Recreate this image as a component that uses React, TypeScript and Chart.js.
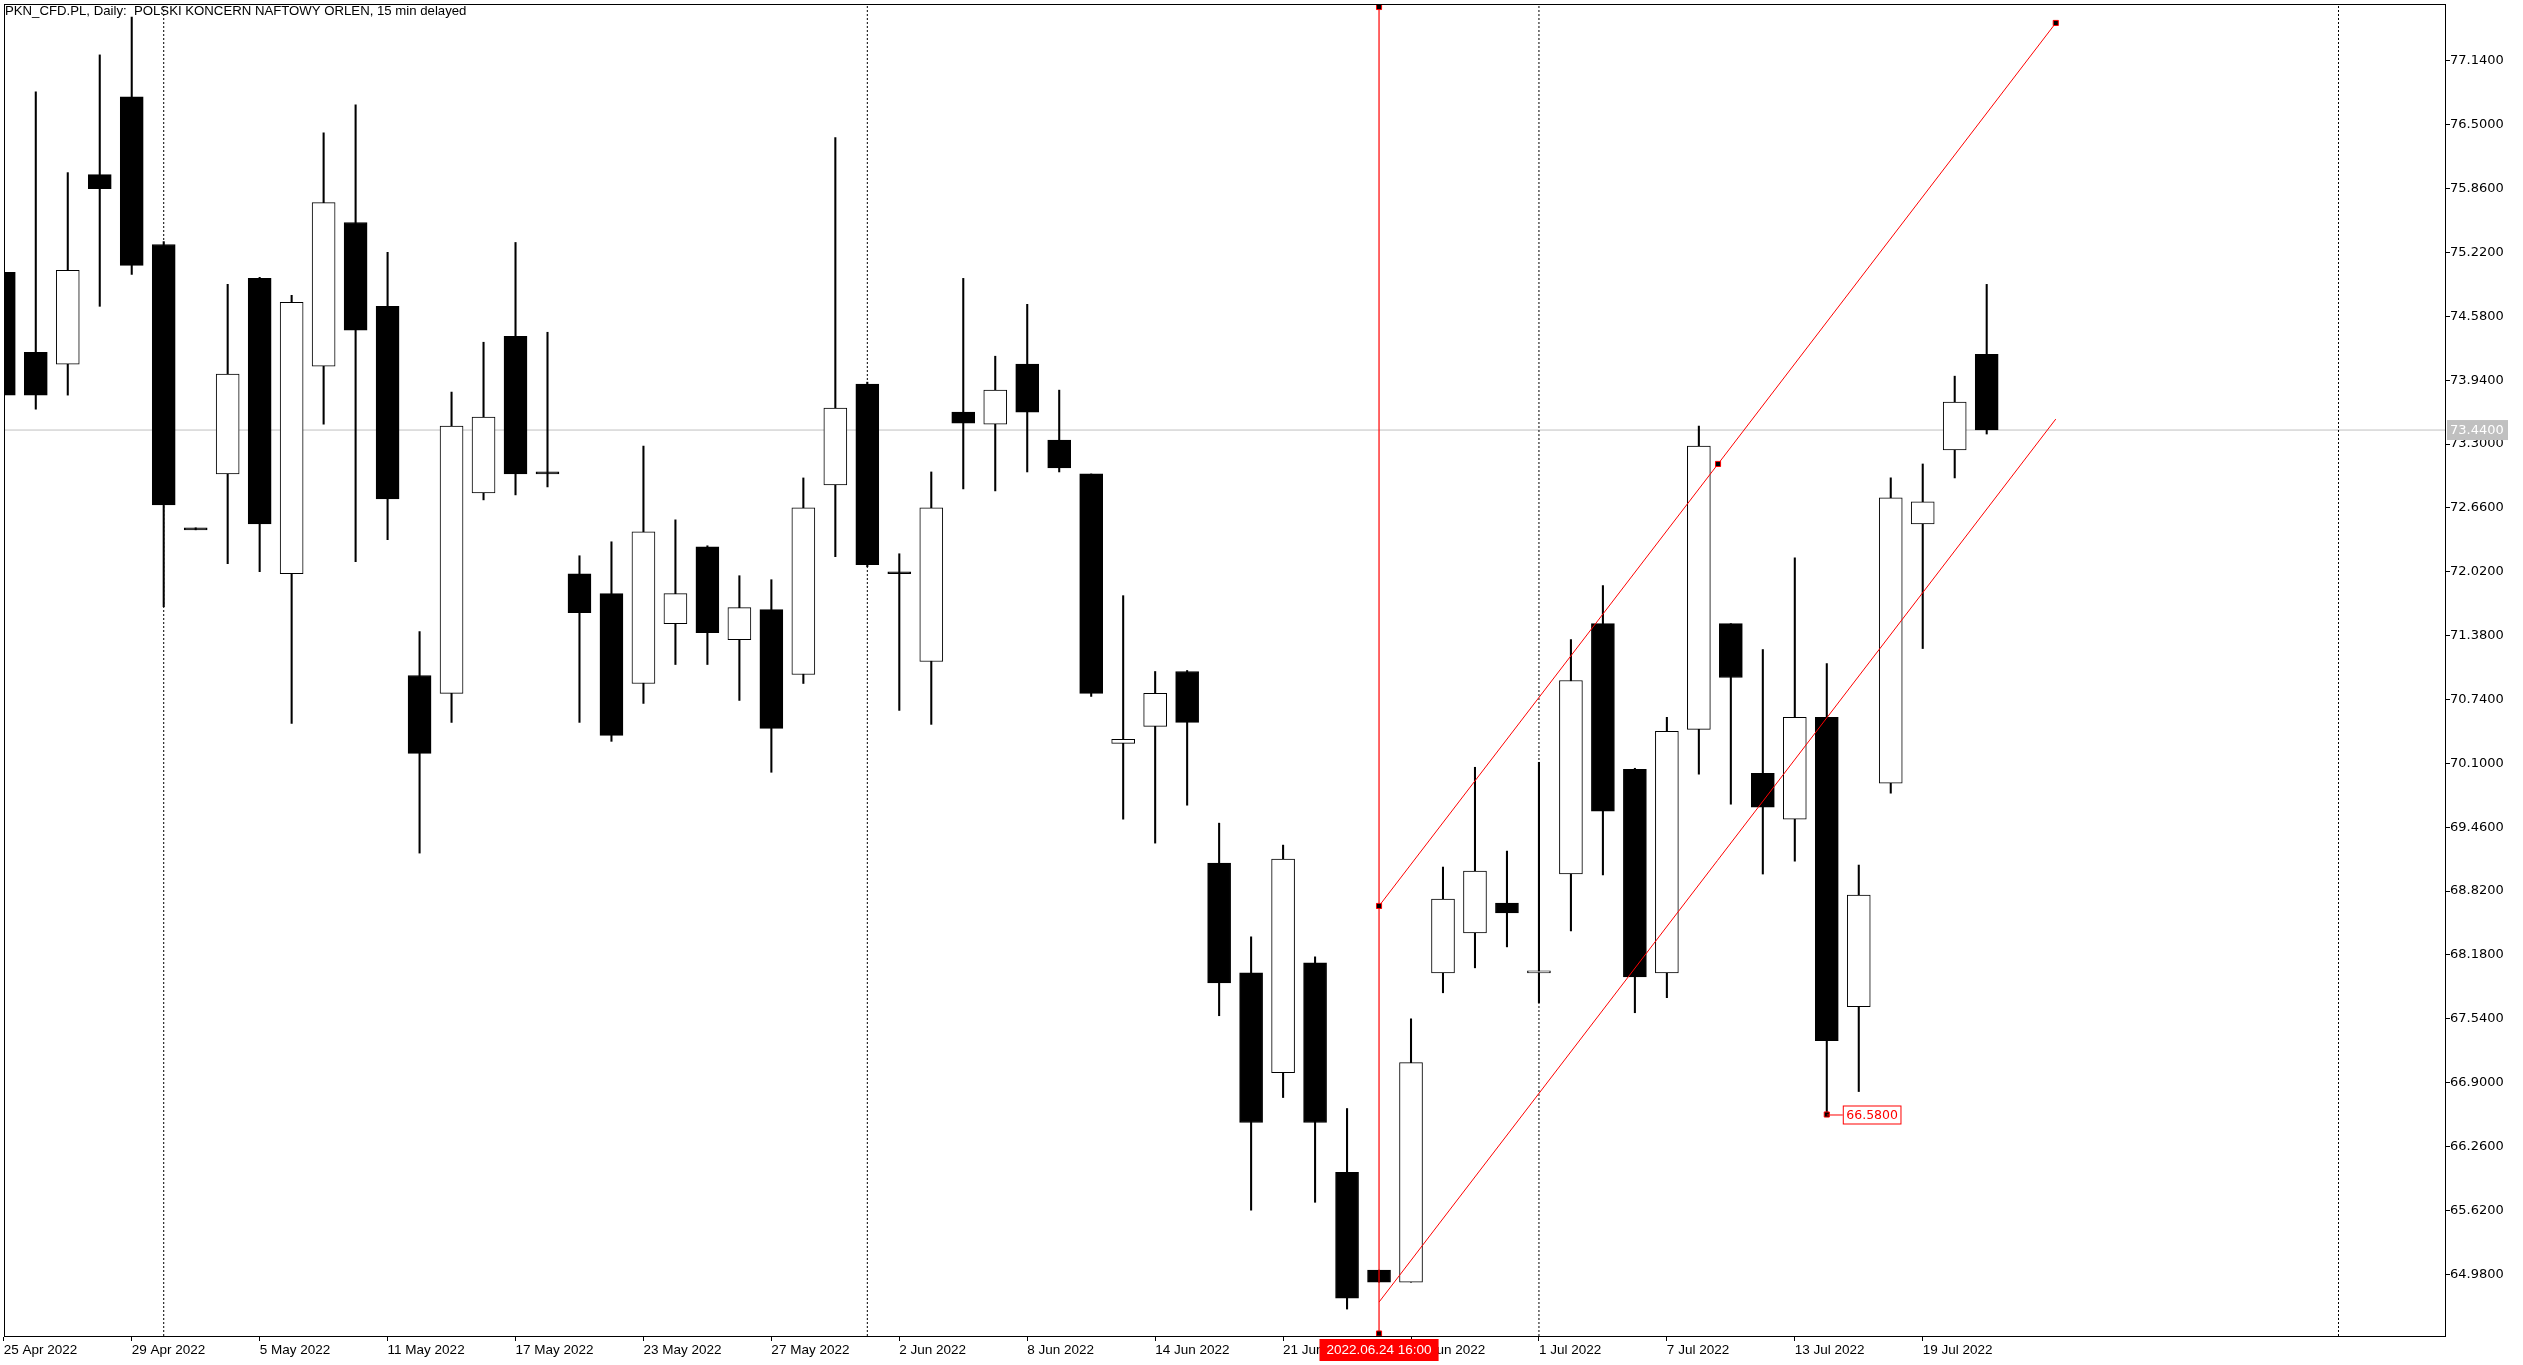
import React, { useEffect, useRef } from 'react';
import { Chart, registerables } from 'chart.js';

Chart.register(...registerables);

const title = 'PKN_CFD.PL, Daily:  POLSKI KONCERN NAFTOWY ORLEN, 15 min delayed';

const dates = ['25 Apr 2022','26 Apr 2022','27 Apr 2022','28 Apr 2022','29 Apr 2022','2 May 2022','3 May 2022','4 May 2022','5 May 2022','6 May 2022','9 May 2022','10 May 2022','11 May 2022','12 May 2022','13 May 2022','16 May 2022','17 May 2022','18 May 2022','19 May 2022','20 May 2022','23 May 2022','24 May 2022','25 May 2022','26 May 2022','27 May 2022','30 May 2022','31 May 2022','1 Jun 2022','2 Jun 2022','3 Jun 2022','6 Jun 2022','7 Jun 2022','8 Jun 2022','9 Jun 2022','10 Jun 2022','13 Jun 2022','14 Jun 2022','15 Jun 2022','17 Jun 2022','20 Jun 2022','21 Jun 2022','22 Jun 2022','23 Jun 2022','24 Jun 2022','27 Jun 2022','28 Jun 2022','29 Jun 2022','30 Jun 2022','1 Jul 2022','4 Jul 2022','5 Jul 2022','6 Jul 2022','7 Jul 2022','8 Jul 2022','11 Jul 2022','12 Jul 2022','13 Jul 2022','14 Jul 2022','15 Jul 2022','18 Jul 2022','19 Jul 2022','20 Jul 2022','21 Jul 2022'];

const opens = [75.02,74.22,74.10,76.00,76.78,75.30,72.44,73.00,74.96,72.00,74.08,75.52,74.68,70.98,70.80,72.81,74.38,73.00,72.00,71.80,70.90,71.50,72.27,71.34,71.64,70.99,72.89,73.90,72.00,71.12,73.62,73.50,74.10,73.34,73.00,70.30,70.47,71.02,69.10,68.00,67.00,68.10,66.00,65.02,64.90,68.00,68.40,68.70,68.00,68.99,71.50,70.04,68.00,70.44,71.50,70.00,69.54,70.56,67.66,69.90,72.50,73.24,74.20];
const highs = [75.10,76.83,76.02,77.20,77.58,75.33,72.44,74.90,74.97,74.79,76.42,76.70,75.22,71.42,73.82,74.32,75.32,74.42,72.18,72.32,73.28,72.54,72.28,71.98,71.94,72.96,76.37,73.92,72.20,73.02,74.96,74.18,74.70,73.84,73.00,71.78,71.02,71.03,69.50,68.36,69.28,68.16,66.64,65.02,67.54,69.06,70.06,69.22,70.11,71.34,71.88,70.05,70.56,73.48,71.50,71.24,72.16,71.10,69.08,72.96,73.10,73.98,74.90];
const lows = [73.60,73.65,73.79,74.68,75.00,71.67,72.44,72.10,72.02,70.50,73.50,72.12,72.34,69.20,70.51,72.74,72.79,72.87,70.51,70.32,70.70,71.09,71.09,70.73,70.01,70.90,72.17,72.07,70.63,70.49,72.85,72.83,73.02,73.02,70.77,69.54,69.30,69.68,67.57,65.62,66.75,65.70,64.63,64.90,64.90,67.80,68.05,68.26,67.70,68.42,68.98,67.60,67.75,69.99,69.69,68.99,69.12,66.58,66.81,69.80,71.25,72.96,73.40];
const closes = [73.79,73.79,75.04,75.86,75.09,72.69,72.44,74.00,72.50,74.72,75.72,74.44,72.75,70.20,73.48,73.57,73.00,73.00,71.61,70.38,72.42,71.80,71.41,71.66,70.45,72.66,73.66,72.09,72.00,72.66,73.51,73.84,73.62,73.06,70.80,70.34,70.80,70.51,67.90,66.50,69.14,66.50,64.74,64.90,67.10,68.74,69.02,68.60,68.02,70.93,69.62,67.96,70.42,73.28,70.96,69.66,70.56,67.32,68.78,72.76,72.72,73.72,73.44];

const xTickIndex = [0, 4, 8, 12, 16, 20, 24, 28, 32, 36, 40, 44, 48, 52, 56, 60];
const yTickValues = [64.98, 65.62, 66.26, 66.90, 67.54, 68.18, 68.82, 69.46, 70.10, 70.74, 71.38, 72.02, 72.66, 73.30, 73.94, 74.58, 75.22, 75.86, 76.50, 77.14];
const monthSeparators = [5, 27, 48, 73];

const bidPrice = 73.44;
const vlineIndex = 43;
const vlineLabel = '2022.06.24 16:00';
const channelUpperX = [43, 53.6, 64.16];
const channelUpperY = [68.67, 73.10, 77.52];
const channelLowerX = [43, 64.16];
const channelLowerY = [64.70, 73.55];
const priceLabelIndex = 57;
const priceLabelValue = 66.58;

const X_MIN = 0.0375;
const X_MAX = 76.33;
const Y_MIN = 64.36;
const Y_MAX = 77.70;
const V_TOP = 77.68;
const V_BOTTOM = 64.385;

const AXIS_FONT_Y = '13px "DejaVu Sans"';
const AXIS_FONT_X = '13.5px "Liberation Sans"';

const overlayPlugin = {
  id: 'overlay',
  afterDraw(chart: any) {
    const { ctx, chartArea: a, scales } = chart;
    const x = scales.x;
    const y = scales.y;
    ctx.save();
    ctx.strokeStyle = '#000';
    ctx.lineWidth = 1;
    ctx.strokeRect(a.left - 0.5, a.top - 0.5, a.right - a.left + 1, a.bottom - a.top + 1);

    ctx.fillStyle = '#000';
    ctx.font = '13.2px "Liberation Sans"';
    ctx.textBaseline = 'top';
    ctx.textAlign = 'left';
    ctx.fillText(title, 5, 5);

    // bid label
    const by = y.getPixelForValue(bidPrice);
    ctx.fillStyle = '#c0c0c0';
    ctx.fillRect(a.right + 2, by - 10, 61, 20);
    ctx.fillStyle = '#ffffff';
    ctx.font = AXIS_FONT_Y;
    ctx.textBaseline = 'middle';
    ctx.textAlign = 'left';
    ctx.fillText(bidPrice.toFixed(4), a.right + 5, by + 1);

    // vertical line date label
    const vx = x.getPixelForValue(vlineIndex);
    ctx.font = AXIS_FONT_X;
    const w = ctx.measureText(vlineLabel).width + 14;
    ctx.fillStyle = '#ff0000';
    ctx.fillRect(vx - w / 2, a.bottom + 3, w, 22);
    ctx.fillStyle = '#ffffff';
    ctx.textAlign = 'center';
    ctx.textBaseline = 'middle';
    ctx.fillText(vlineLabel, vx, a.bottom + 14.5);

    // price label
    const px = x.getPixelForValue(priceLabelIndex);
    const py = y.getPixelForValue(priceLabelValue);
    ctx.strokeStyle = '#ff0000';
    ctx.beginPath();
    ctx.moveTo(px, py + 0.5);
    ctx.lineTo(px + 16, py + 0.5);
    ctx.stroke();
    ctx.font = '12.5px "DejaVu Sans"';
    const tw = ctx.measureText(priceLabelValue.toFixed(4)).width + 6;
    ctx.fillStyle = '#ffffff';
    ctx.fillRect(px + 16.5, py - 8.5, tw, 18);
    ctx.strokeRect(px + 16.5, py - 8.5, tw, 18);
    ctx.fillStyle = '#ff0000';
    ctx.textAlign = 'left';
    ctx.fillText(priceLabelValue.toFixed(4), px + 19.5, py + 1);
    ctx.restore();
  },
};

export default function App() {
  const ref = useRef<HTMLCanvasElement | null>(null);

  useEffect(() => {
    const canvas = ref.current;
    if (!canvas) return;
    document.body.style.margin = '0';
    document.body.style.overflow = 'hidden';

    const idx = dates.map((_, i) => i);
    const datasets: any[] = [];

    datasets.push({
      type: 'line',
      data: [{ x: X_MIN, y: bidPrice }, { x: X_MAX, y: bidPrice }],
      borderColor: '#c0c0c0',
      borderWidth: 1,
      pointRadius: 0,
      order: 10,
    });

    monthSeparators.forEach((m) => {
      datasets.push({
        type: 'line',
        data: [{ x: m, y: Y_MIN }, { x: m, y: Y_MAX }],
        borderColor: '#000',
        borderWidth: 1,
        borderDash: [2, 2],
        pointRadius: 0,
        order: 9,
      });
    });

    datasets.push({
      type: 'bar',
      data: idx.map((i) => ({ x: i, y: [lows[i], highs[i]] })),
      backgroundColor: '#000',
      borderWidth: 0,
      barThickness: 1.4,
      minBarLength: 2,
      grouped: false,
      order: 5,
    });

    datasets.push({
      type: 'bar',
      data: idx.map((i) => ({ x: i, y: [opens[i], closes[i]] })),
      backgroundColor: idx.map((i) => (closes[i] > opens[i] ? '#ffffff' : '#000000')),
      borderColor: '#000',
      borderWidth: 1,
      borderSkipped: false,
      barThickness: 23,
      minBarLength: 2,
      grouped: false,
      order: 4,
    });

    datasets.push({
      type: 'line',
      data: [{ x: vlineIndex, y: V_TOP }, { x: vlineIndex, y: V_BOTTOM }],
      borderColor: '#ff0000',
      borderWidth: 1.2,
      pointRadius: 3.6,
      pointStyle: 'rect',
      pointBackgroundColor: '#000',
      pointBorderColor: '#ff0000',
      pointBorderWidth: 1,
      order: 3,
    });

    datasets.push({
      type: 'line',
      data: channelUpperX.map((v, i) => ({ x: v, y: channelUpperY[i] })),
      borderColor: '#ff0000',
      borderWidth: 1,
      pointRadius: 3.6,
      pointStyle: 'rect',
      pointBackgroundColor: '#000',
      pointBorderColor: '#ff0000',
      pointBorderWidth: 1,
      order: 2,
    });

    datasets.push({
      type: 'line',
      data: channelLowerX.map((v, i) => ({ x: v, y: channelLowerY[i] })),
      borderColor: '#ff0000',
      borderWidth: 1,
      pointRadius: 0,
      order: 2,
    });

    datasets.push({
      type: 'line',
      data: [{ x: priceLabelIndex, y: priceLabelValue }],
      showLine: false,
      pointRadius: 3.6,
      pointStyle: 'rect',
      pointBackgroundColor: '#000',
      pointBorderColor: '#ff0000',
      pointBorderWidth: 1,
      order: 1,
    });

    const chart = new Chart(canvas, {
      type: 'bar',
      data: { datasets },
      options: {
        animation: false,
        responsive: false,
        maintainAspectRatio: false,
        devicePixelRatio: 1,
        events: [],
        layout: { padding: { left: 2, top: 2, right: 0, bottom: 0 } },
        plugins: {
          legend: { display: false },
          tooltip: { enabled: false },
          title: { display: false },
        },
        scales: {
          x: {
            type: 'linear',
            position: 'bottom',
            min: X_MIN,
            max: X_MAX,
            offset: false,
            grid: {
              display: true,
              offset: false,
              drawOnChartArea: false,
              drawTicks: true,
              tickLength: 5,
              tickColor: '#000',
              color: '#000',
            },
            border: { display: true, color: '#000', width: 1 },
            ticks: {
              autoSkip: false,
              maxRotation: 0,
              minRotation: 0,
              align: 'start',
              padding: 1,
              color: '#000',
              font: { family: 'Liberation Sans', size: 13.5 },
              callback: (v: any) => dates[Math.round(Number(v))] ?? '',
            },
            afterBuildTicks: (s: any) => {
              s.ticks = xTickIndex.map((v) => ({ value: v }));
            },
            afterFit: (s: any) => {
              s.height = 29;
              s.paddingLeft = 0;
              s.paddingRight = 0;
            },
          },
          y: {
            type: 'linear',
            position: 'right',
            min: Y_MIN,
            max: Y_MAX,
            grid: {
              display: true,
              drawOnChartArea: false,
              drawTicks: true,
              tickLength: 5,
              tickColor: '#000',
              color: '#000',
            },
            border: { display: true, color: '#000', width: 1 },
            ticks: {
              autoSkip: false,
              padding: 0,
              color: '#000',
              font: { family: 'DejaVu Sans', size: 13 },
              callback: (v: any) => Number(v).toFixed(4),
            },
            afterBuildTicks: (s: any) => {
              s.ticks = yTickValues.map((v) => ({ value: v }));
            },
            afterFit: (s: any) => {
              s.width = 78;
              s.paddingTop = 0;
              s.paddingBottom = 0;
            },
          },
        },
      } as any,
      plugins: [overlayPlugin],
    });

    return () => chart.destroy();
  }, []);

  return (
    <canvas
      ref={ref}
      width={2523}
      height={1365}
      style={{ position: 'fixed', left: 0, top: 0, width: 2523, height: 1365, display: 'block', background: '#fff' }}
    />
  );
}
